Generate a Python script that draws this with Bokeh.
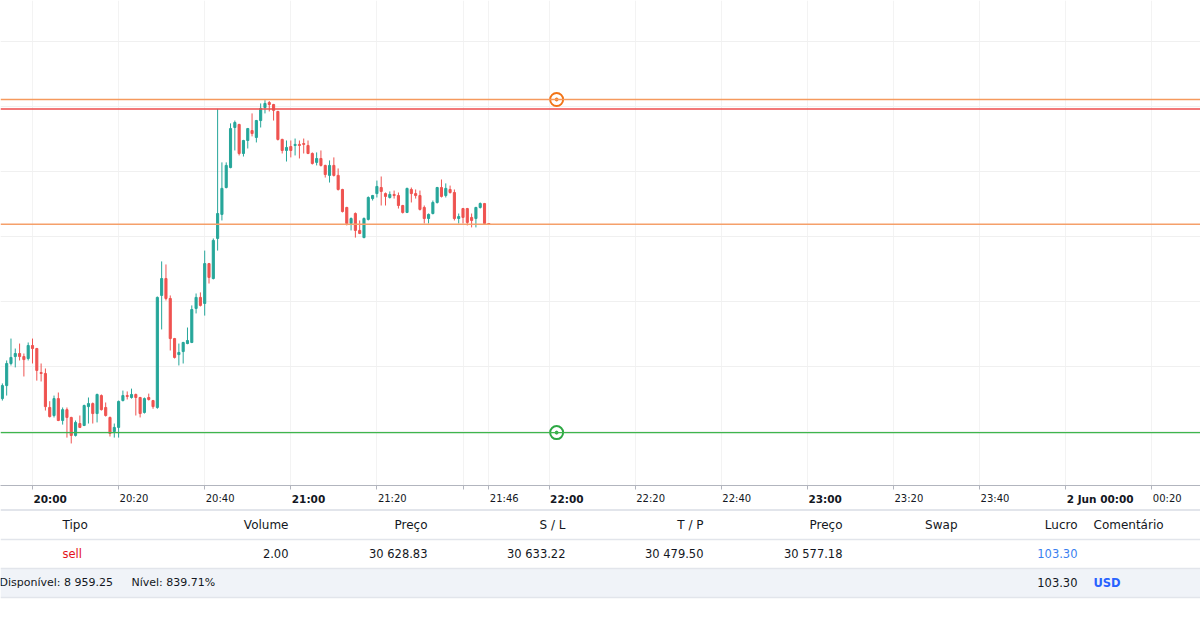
import pandas as pd
from bokeh.plotting import figure
from bokeh.models import Range1d, Span, FixedTicker, Grid, ColumnDataSource
from bokeh.layouts import column
from bokeh.embed import file_html
from bokeh.resources import INLINE
from bokeh.core.properties import value

# ---------------- data (1-minute candles, 1 Jun 19:53 -> 21:46) ----------------
opens = [30495.2, 30501.2, 30511.4, 30514.6, 30516.0, 30514.6, 30513.7, 30519.7, 30518.3, 30507.2,
         30506.8, 30491.1, 30487.4, 30495.2, 30485.1, 30490.1, 30486.5, 30478.2, 30483.7, 30482.8,
         30491.5, 30492.9, 30488.3, 30496.6, 30491.1, 30486.5, 30480.0, 30481.9, 30494.3, 30496.6,
         30495.7, 30497.1, 30495.7, 30488.8, 30495.7, 30494.3, 30491.1, 30542.8, 30550.6, 30541.4,
         30522.9, 30515.5, 30516.9, 30520.6, 30521.1, 30536.8, 30541.9, 30539.1, 30557.5, 30550.6,
         30569.1, 30580.2, 30592.6, 30601.8, 30620.3, 30621.7, 30608.3, 30614.3, 30618.9, 30615.7,
         30623.5, 30629.5, 30631.8, 30630.9, 30627.7, 30614.8, 30609.7, 30611.5, 30612.0, 30612.5,
         30612.9, 30612.0, 30608.3, 30604.2, 30606.0, 30602.8, 30598.2, 30602.8, 30598.2, 30591.7,
         30583.4, 30576.0, 30580.6, 30572.8, 30569.5, 30577.9, 30587.5, 30589.8, 30592.6, 30589.8,
         30588.0, 30589.4, 30588.9, 30584.3, 30581.1, 30591.7, 30589.8, 30588.9, 30583.4, 30578.3,
         30580.6, 30585.7, 30592.6, 30588.9, 30591.7, 30590.3, 30578.3, 30582.9, 30582.9, 30578.8,
         30578.3, 30583.4, 30585.2, 30576.0]
highs = [30502.2, 30512.8, 30522.9, 30518.3, 30520.6, 30516.0, 30521.1, 30522.9, 30518.6, 30511.4,
         30509.1, 30494.0, 30496.6, 30498.0, 30491.1, 30491.1, 30486.8, 30485.1, 30487.4, 30492.4,
         30495.7, 30493.4, 30497.5, 30497.1, 30493.4, 30486.9, 30483.7, 30494.3, 30498.9, 30498.5,
         30499.8, 30497.5, 30496.0, 30495.7, 30497.5, 30494.6, 30542.3, 30558.5, 30557.1, 30542.8,
         30523.2, 30520.6, 30521.4, 30528.0, 30538.2, 30543.7, 30544.2, 30563.5, 30557.8, 30569.1,
         30628.9, 30604.2, 30604.2, 30622.2, 30623.5, 30622.0, 30614.6, 30620.1, 30626.8, 30623.8,
         30631.4, 30632.9, 30632.5, 30631.2, 30628.0, 30615.1, 30614.3, 30614.3, 30615.2, 30614.3,
         30615.2, 30614.3, 30608.8, 30608.8, 30609.7, 30603.1, 30605.1, 30606.5, 30601.4, 30592.0,
         30583.7, 30578.8, 30581.1, 30577.4, 30578.8, 30588.5, 30589.2, 30595.8, 30597.7, 30590.3,
         30590.8, 30591.2, 30590.3, 30584.6, 30592.5, 30592.6, 30591.7, 30591.2, 30584.3, 30580.6,
         30586.6, 30592.9, 30596.3, 30594.5, 30593.5, 30591.7, 30580.6, 30583.2, 30583.2, 30580.6,
         30583.7, 30585.7, 30585.5, 30576.2]
lows = [30494.3, 30496.6, 30510.5, 30509.6, 30512.8, 30505.4, 30512.8, 30511.4, 30503.5, 30503.1,
        30489.7, 30486.5, 30486.5, 30484.8, 30483.2, 30477.2, 30474.5, 30477.7, 30481.6, 30482.5,
        30483.7, 30483.7, 30484.2, 30489.7, 30486.9, 30477.7, 30477.2, 30477.2, 30493.9, 30494.8,
        30495.2, 30487.4, 30486.5, 30488.3, 30494.3, 30490.5, 30490.5, 30527.1, 30540.5, 30517.4,
        30513.7, 30510.5, 30511.4, 30520.3, 30520.8, 30534.5, 30537.7, 30533.5, 30548.3, 30550.2,
        30563.5, 30577.4, 30592.2, 30601.5, 30609.7, 30607.4, 30606.9, 30610.6, 30616.2, 30613.4,
        30620.3, 30626.8, 30627.7, 30623.5, 30614.3, 30608.3, 30604.6, 30606.5, 30607.4, 30606.0,
        30608.3, 30608.0, 30603.2, 30602.8, 30602.3, 30597.2, 30594.9, 30597.7, 30591.2, 30581.1,
        30575.1, 30572.8, 30569.5, 30571.1, 30569.2, 30577.4, 30586.6, 30588.0, 30584.3, 30584.3,
        30587.5, 30587.5, 30582.9, 30580.6, 30580.8, 30585.7, 30587.5, 30582.0, 30576.0, 30576.0,
        30580.2, 30585.2, 30588.0, 30588.0, 30589.8, 30577.4, 30576.0, 30576.0, 30575.1, 30574.2,
        30574.2, 30582.9, 30575.7, 30575.5]
closes = [30501.2, 30511.4, 30514.2, 30516.0, 30514.6, 30513.2, 30519.7, 30518.3, 30508.2, 30506.8,
          30491.5, 30486.9, 30495.2, 30485.1, 30490.1, 30486.5, 30478.2, 30484.2, 30481.9, 30492.0,
          30492.9, 30488.3, 30497.1, 30490.1, 30487.4, 30479.1, 30481.9, 30493.9, 30496.6, 30496.2,
          30497.1, 30495.7, 30488.3, 30495.2, 30494.8, 30491.5, 30541.9, 30550.6, 30541.4, 30522.9,
          30514.2, 30516.5, 30521.1, 30522.0, 30536.3, 30541.9, 30538.2, 30557.5, 30551.1, 30568.2,
          30580.6, 30592.2, 30602.8, 30619.8, 30622.6, 30608.3, 30614.3, 30619.8, 30617.5, 30623.5,
          30629.1, 30631.4, 30630.9, 30628.2, 30614.8, 30609.7, 30611.1, 30609.7, 30612.5, 30612.0,
          30612.5, 30608.3, 30603.7, 30606.0, 30602.8, 30598.6, 30602.8, 30598.2, 30591.7, 30581.5,
          30576.0, 30578.3, 30572.8, 30571.4, 30578.3, 30588.0, 30588.9, 30593.1, 30590.8, 30588.5,
          30589.4, 30588.9, 30584.3, 30581.1, 30592.2, 30589.8, 30588.9, 30582.5, 30578.3, 30580.2,
          30585.7, 30592.6, 30588.5, 30592.2, 30590.3, 30578.3, 30579.2, 30578.8, 30576.5, 30577.4,
          30583.4, 30585.2, 30576.0, 30575.6]
times = pd.date_range("2022-06-01 19:53", periods=len(opens), freq="1min")

# order levels
sl_price = 30633.22
entry_price = 30628.83
tp_price = 30479.50
current_price = 30577.18
level_marker_time = pd.Timestamp("2022-06-01 22:01:45")

# time axis
tick_times = ["2022-06-01 20:00", "2022-06-01 20:20", "2022-06-01 20:40", "2022-06-01 21:00",
              "2022-06-01 21:20", "2022-06-01 21:40", "2022-06-01 21:46", "2022-06-01 22:00",
              "2022-06-01 22:20", "2022-06-01 22:40", "2022-06-01 23:00", "2022-06-01 23:20",
              "2022-06-01 23:40", "2022-06-02 00:00", "2022-06-02 00:20"]
tick_labels = ["20:00", "20:20", "20:40", "21:00", "21:20", "", "21:46", "22:00", "22:20",
               "22:40", "23:00", "23:20", "23:40", "2 Jun 00:00", "00:20"]
tick_bold = [True, False, False, True, False, False, False, True, False, False, True, False,
             False, True, False]
price_grid = [30480, 30510, 30540, 30570, 30600, 30630, 30660]

# table
columns = ["Tipo", "Volume", "Preço", "S / L", "T / P", "Preço", "Swap", "Lucro", "Comentário"]
order_type = "sell"
volume = 2.00
profit = 103.30
free_margin = 8959.25
margin_level = 839.71
total_profit = 103.30
currency = "USD"


def ms(t):
    return int(pd.Timestamp(t).value // 10**6)


def fmt(v):
    return f"{v:,.2f}".replace(",", " ")


UP, DOWN = "#26a69a", "#ef5350"
FONT = value("DejaVu Sans")
TXT = "#131722"

# ---------------- chart ----------------
px_per_min = 4.305
x_start = ms("2022-06-01 20:00") - 32 / px_per_min * 60000
x_end = x_start + 1200 / px_per_min * 60000
xr = Range1d(x_start, x_end)
y0, y1 = 30455.1, 30678.9

p = figure(width=1200, height=493, x_range=xr, y_range=Range1d(y0, y1),
           output_backend="svg", toolbar_location=None, y_axis_location=None,
           min_border_left=0, min_border_right=0, min_border_top=0, min_border_bottom=8,
           outline_line_color=None, background_fill_color="white", border_fill_color="white")

tick_ms = [ms(t) for t in tick_times]
p.xaxis.ticker = FixedTicker(ticks=tick_ms)
p.xaxis.major_label_overrides = {t: "" for t in tick_ms}
p.xaxis.major_label_text_font_size = "1px"
p.xaxis.major_label_standoff = 0
p.xaxis.axis_line_color = "#b2b5be"
p.xaxis.major_tick_line_color = "#b2b5be"
p.xaxis.major_tick_out = 4
p.xaxis.major_tick_in = 0
p.xaxis.minor_tick_out = 0
p.xaxis.minor_tick_in = 0
for g in p.xgrid:
    g.ticker = FixedTicker(ticks=tick_ms)
    g.grid_line_color = "#f3f3f3"
for g in p.ygrid:
    g.visible = False
p.add_layout(Grid(dimension=1, ticker=FixedTicker(ticks=price_grid), grid_line_color="#f0f0f0"))

colors = [UP if c >= o else DOWN for o, c in zip(opens, closes)]
src = ColumnDataSource(dict(
    t=times, o=opens, h=highs, l=lows, c=closes,
    top=[max(o, c) for o, c in zip(opens, closes)],
    bot=[min(o, c) for o, c in zip(opens, closes)],
    color=colors))
p.segment(x0="t", y0="l", x1="t", y1="h", color="color", line_width=1, source=src)
p.vbar(x="t", width=2.1 / px_per_min * 60000, top="top", bottom="bot",
       fill_color="color", line_color="color", line_width=1, source=src)

# level lines
p.add_layout(Span(location=sl_price, dimension="width", line_color="#f59a5e", line_width=1.5))
p.add_layout(Span(location=entry_price, dimension="width", line_color="#ee4c4c", line_width=1.6))
p.add_layout(Span(location=closes[-1], dimension="width", line_color="#f5a06a", line_width=1.5))
p.add_layout(Span(location=tp_price, dimension="width", line_color="#3fb54d", line_width=1.2))

for lvl, col in [(sl_price, "#f27417"), (tp_price, "#2ea844")]:
    p.scatter(x=[level_marker_time], y=[lvl], marker="circle", size=13, fill_color="white",
              line_color=col, line_width=2)
    p.scatter(x=[level_marker_time], y=[lvl], marker="circle", size=3, fill_color=col,
              line_color=col)

# ---------------- time labels + table (below the axis) ----------------
TOP = 493  # page y of this figure's top edge
tb = figure(width=1200, height=631 - TOP, x_range=xr, y_range=Range1d(631 - TOP, 0),
            output_backend="svg", toolbar_location=None, x_axis_location=None,
            y_axis_location=None, min_border=0, outline_line_color=None,
            background_fill_color="white", border_fill_color="white")
tb.extra_x_ranges = {"px": Range1d(0, 1200)}
for g in tb.grid:
    g.visible = False

# time labels, left aligned at each tick
for bold in (False, True):
    xs = [t for t, lab, b in zip(tick_ms, tick_labels, tick_bold) if lab and b == bold]
    ls = [lab for lab, b in zip(tick_labels, tick_bold) if lab and b == bold]
    tb.text(x=xs, y=[498 - TOP] * len(xs), text=ls, text_align="left", text_baseline="middle",
            x_offset=1, text_font=FONT, text_font_size="10.5px" if bold else "10px",
            text_font_style="bold" if bold else "normal", text_color=TXT)

def py(v):
    return v - TOP

tb.quad(left=[0], right=[1200], top=[py(568)], bottom=[py(597)], fill_color="#f0f3f8",
        line_color=None, x_range_name="px")
tb.segment(x0=[0, 0, 0, 0], x1=[1200] * 4, y0=[py(509.5), py(539), py(568), py(597)],
           y1=[py(509.5), py(539), py(568), py(597)], line_color="#e2e5eb",
           line_width=[2, 1.5, 1.5, 1.5], x_range_name="px")

HY, RY, FY = py(524), py(553), py(582)
col_x = [62, 288, 427, 565, 703, 842, 957, 1077, 1093]
col_align = ["left", "right", "right", "right", "right", "right", "right", "right", "left"]

for x, txt, al in zip(col_x, columns, col_align):
    tb.text(x=[x], y=[HY], text=[txt], text_align=al, text_baseline="middle",
            text_font=FONT, text_font_size="12px", text_color=TXT, x_range_name="px")

row_vals = [fmt(volume), fmt(entry_price), fmt(sl_price), fmt(tp_price), fmt(current_price)]
tb.text(x=col_x[1:6], y=[RY] * 5, text=row_vals, text_align="right", text_baseline="middle",
        text_font=FONT, text_font_size="11.5px", text_color=TXT, x_range_name="px")
tb.text(x=[col_x[0]], y=[RY], text=[order_type], text_align="left", text_baseline="middle",
        text_font=FONT, text_font_size="11.5px", text_color="#e3121b", x_range_name="px")
tb.text(x=[col_x[7]], y=[RY], text=[fmt(profit)], text_align="right", text_baseline="middle",
        text_font=FONT, text_font_size="11.5px", text_color="#3a7ff0", x_range_name="px")

tb.text(x=[-1, 131], y=[FY, FY],
        text=[f"Disponível: {fmt(free_margin)}", f"Nível: {margin_level:.2f}%"],
        text_align="left", text_baseline="middle", text_font=FONT, text_font_size="11px",
        text_color=TXT, x_range_name="px")
tb.text(x=[col_x[7]], y=[FY], text=[fmt(total_profit)], text_align="right",
        text_baseline="middle", text_font=FONT, text_font_size="11.5px", text_color=TXT,
        x_range_name="px")
tb.text(x=[col_x[8]], y=[FY], text=[currency], text_align="left", text_baseline="middle",
        text_font=FONT, text_font_size="11.5px", text_font_style="bold", text_color="#2962ff",
        x_range_name="px")

layout = column(p, tb, spacing=0)
open("out.html", "w").write(file_html(layout, INLINE))
